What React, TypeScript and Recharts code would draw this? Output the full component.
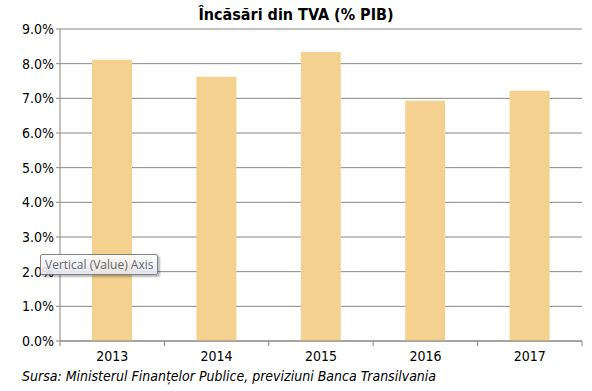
import React from "react";
import { BarChart, Bar, XAxis, YAxis, CartesianGrid } from "recharts";

const years = ["2013", "2014", "2015", "2016", "2017"];
const vatShare = [8.11, 7.62, 8.34, 6.93, 7.22];
const yTicks = [0, 1, 2, 3, 4, 5, 6, 7, 8, 9];

const data = years.map((year, i) => ({ year, value: vatShare[i] }));

const FONT = "'DejaVu Sans Condensed', 'DejaVu Sans', sans-serif";
const GRID = "#868686";
const BAND = 522 / years.length;

function YearTick(props: any) {
  const { x, y, payload, index } = props;
  return (
    <g>
      <line x1={x - BAND / 2} y1={y - 8} x2={x - BAND / 2} y2={y - 3} stroke={GRID} />
      {index === years.length - 1 && (
        <line x1={x + BAND / 2} y1={y - 8} x2={x + BAND / 2} y2={y - 3} stroke={GRID} />
      )}
      <text x={x} y={y + 12} textAnchor="middle" fill="#000" fontSize={14} fontFamily={FONT}>
        {payload.value}
      </text>
    </g>
  );
}

export default function App() {
  return (
    <div style={{ position: "fixed", left: 0, top: 0, width: 592, height: 391, background: "#fff" }}>
      <div
        style={{
          position: "absolute",
          top: 5,
          left: 0,
          width: 592,
          textAlign: "center",
          fontFamily: FONT,
          fontWeight: "bold",
          fontSize: 16,
        }}
      >
        Încăsări din TVA (% PIB)
      </div>
      <BarChart
        width={592}
        height={391}
        data={data}
        margin={{ top: 29, right: 10, bottom: 20, left: 0 }}
        barSize={40}
      >
        <CartesianGrid vertical={false} stroke={GRID} strokeWidth={1} />
        <XAxis
          dataKey="year"
          height={30}
          axisLine={{ stroke: GRID }}
          tickLine={false}
          tick={<YearTick />}
          interval={0}
        />
        <YAxis
          domain={[0, 9]}
          ticks={yTicks}
          width={60}
          axisLine={{ stroke: GRID }}
          tickLine={{ stroke: GRID }}
          tickSize={4}
          tickFormatter={(v: number) => v.toFixed(1) + "%"}
          tick={{ fill: "#000", fontSize: 14, fontFamily: FONT }}
        />
        <YAxis
          yAxisId="right"
          orientation="right"
          domain={[0, 9]}
          width={0}
          tick={false}
          tickLine={false}
          axisLine={{ stroke: GRID }}
        />
        <Bar dataKey="value" fill="#F5D190" isAnimationActive={false} />
      </BarChart>
      <div
        style={{
          position: "absolute",
          left: 22,
          top: 368,
          fontFamily: FONT,
          fontStyle: "italic",
          fontSize: 14,
          color: "#000",
        }}
      >
        Sursa: Ministerul Finanțelor Publice, previziuni Banca Transilvania
      </div>
      <div
        style={{
          position: "absolute",
          left: 40,
          top: 254,
          padding: "1px 4px",
          border: "1px solid #767676",
          borderRadius: 2,
          background: "linear-gradient(#ffffff, #e4e5f0)",
          boxShadow: "2px 2px 2px rgba(0,0,0,0.3)",
          fontFamily: "'Open Sans', sans-serif",
          fontSize: 12,
          color: "#575757",
          whiteSpace: "nowrap",
          opacity: 0.9,
        }}
      >
        Vertical (Value) Axis
      </div>
    </div>
  );
}
